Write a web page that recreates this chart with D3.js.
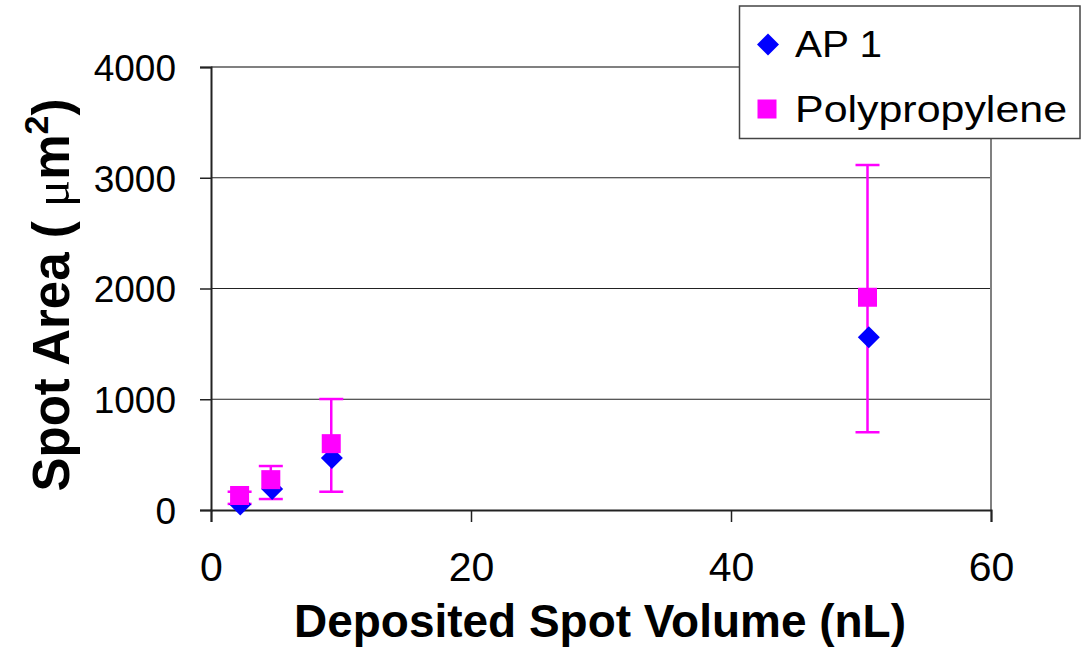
<!DOCTYPE html>
<html>
<head>
<meta charset="utf-8">
<script src="https://cdn.jsdelivr.net/npm/d3@7"></script>
<style>
  html, body { margin: 0; padding: 0; background: #fff; }
  svg { display: block; }
  text { font-family: "Liberation Sans", Arial, sans-serif; }
</style>
</head>
<body>
<svg id="chart" width="1083" height="647"></svg>
<script>
// ---- data ----
const ap1X = [2.25, 4.7, 9.3, 50.6];
const ap1Y = [50, 190, 470, 1560];
const ppX = [2.2, 4.6, 9.25, 50.5];
const ppY = [131, 274, 599, 1921];
const ppErrLow = [55, 99, 165, 702];
const ppErrHigh = [165, 397, 1002, 3115];
const xTicks = [0, 20, 40, 60];
const yTicks = [0, 1000, 2000, 3000, 4000];
const seriesNames = ["AP 1", "Polypropylene"];

// ---- layout ----
const svg = d3.select("#chart");
const pLeft = 211, pRight = 991, pTop = 67, pBottom = 510;
const x = d3.scaleLinear().domain([0, 60]).range([pLeft, pRight]);
const y = d3.scaleLinear().domain([0, 4000]).range([pBottom, pTop]);

// gridlines
svg.append("g").selectAll("line").data(yTicks.filter(d => d > 0 && d < 4000)).join("line")
  .attr("x1", pLeft).attr("x2", pRight)
  .attr("y1", d => y(d)).attr("y2", d => y(d))
  .attr("stroke", "#222").attr("stroke-width", 1);

// plot border top/right (gray)
svg.append("path")
  .attr("d", `M${pLeft},${pTop}H${pRight}V${pBottom}`)
  .attr("fill", "none").attr("stroke", "#808080").attr("stroke-width", 2);

// y axis
const yAxis = svg.append("g").attr("transform", `translate(${pLeft},0)`)
  .call(d3.axisLeft(y).tickValues(yTicks).tickSize(11).tickPadding(24).tickFormat(d3.format("d")));
yAxis.select(".domain").attr("stroke", "#222").attr("stroke-width", 2);
yAxis.selectAll(".tick line").attr("stroke", "#222").attr("stroke-width", 1.5);
yAxis.selectAll("text").attr("font-size", 37).attr("fill", "#000")
  .attr("font-family", "'Liberation Sans', Arial, sans-serif").attr("dy", "0.36em");

// x axis
const xAxis = svg.append("g").attr("transform", `translate(0,${pBottom})`)
  .call(d3.axisBottom(x).tickValues(xTicks).tickSize(12).tickPadding(30).tickFormat(d3.format("d")));
xAxis.select(".domain").attr("stroke", "#222").attr("stroke-width", 2);
xAxis.selectAll(".tick line").attr("stroke", "#222").attr("stroke-width", 1.5);
xAxis.selectAll("text").attr("font-size", 41).attr("fill", "#000")
  .attr("font-family", "'Liberation Sans', Arial, sans-serif").attr("dy", "0.71em");

// error bars (Polypropylene)
const eb = svg.append("g").attr("stroke", "#FF00FF").attr("stroke-width", 2.5).attr("fill", "none");
ppX.forEach((xv, i) => {
  const cx = x(xv), y0 = y(ppErrLow[i]), y1 = y(ppErrHigh[i]);
  eb.append("line").attr("x1", cx).attr("x2", cx).attr("y1", y0).attr("y2", y1);
  eb.append("line").attr("x1", cx - 12).attr("x2", cx + 12).attr("y1", y0).attr("y2", y0);
  eb.append("line").attr("x1", cx - 12).attr("x2", cx + 12).attr("y1", y1).attr("y2", y1);
});

// AP 1 diamonds
const diamond = (cx, cy, r) => `M${cx},${cy - r}L${cx + r},${cy}L${cx},${cy + r}L${cx - r},${cy}Z`;
svg.append("g").selectAll("path").data(ap1X.map((d, i) => [d, ap1Y[i]])).join("path")
  .attr("d", d => diamond(x(d[0]), y(d[1]), 11))
  .attr("fill", "#0000FF");

// Polypropylene squares
svg.append("g").selectAll("rect").data(ppX.map((d, i) => [d, ppY[i]])).join("rect")
  .attr("x", d => x(d[0]) - 9.5).attr("y", d => y(d[1]) - 9.5)
  .attr("width", 19).attr("height", 19).attr("fill", "#FF00FF");

// legend
const lg = svg.append("g");
lg.append("rect").attr("x", 739.5).attr("y", 6).attr("width", 340.5).attr("height", 132.5)
  .attr("fill", "#fff").attr("stroke", "#444").attr("stroke-width", 1.5);
lg.append("path").attr("d", diamond(768, 44.5, 11)).attr("fill", "#0000FF");
lg.append("rect").attr("x", 757.5).attr("y", 99.5).attr("width", 19).attr("height", 19).attr("fill", "#FF00FF");
lg.append("text").attr("x", 795).attr("y", 57).attr("font-size", 37)
  .attr("textLength", 87).attr("lengthAdjust", "spacingAndGlyphs").text(seriesNames[0]);
lg.append("text").attr("x", 795).attr("y", 122).attr("font-size", 37)
  .attr("textLength", 272).attr("lengthAdjust", "spacingAndGlyphs").text(seriesNames[1]);

// x title
svg.append("text").attr("x", 600).attr("y", 637).attr("text-anchor", "middle")
  .attr("font-size", 46).attr("font-weight", "bold")
  .attr("textLength", 612).attr("lengthAdjust", "spacingAndGlyphs")
  .text("Deposited Spot Volume (nL)");

// y title
const yt = svg.append("text").attr("transform", "translate(69,295) rotate(-90)")
  .attr("text-anchor", "middle").attr("font-size", 51).attr("font-weight", "bold");
yt.append("tspan").text("Spot Area ( ");
yt.append("tspan").attr("font-family", "'Liberation Serif', serif").attr("font-weight", "normal").text("μ");
yt.append("tspan").text("m");
yt.append("tspan").attr("font-size", 34).attr("dy", -21).text("2");
yt.append("tspan").attr("dy", 21).text(")");
</script>
</body>
</html>
